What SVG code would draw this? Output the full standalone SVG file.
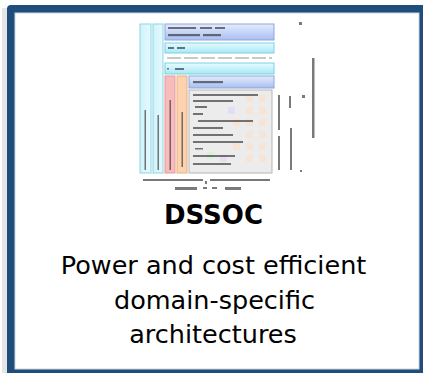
<svg xmlns="http://www.w3.org/2000/svg" width="423" height="373" viewBox="0 0 423 373">
<defs>
<style>
.t{font-family:"DejaVu Sans","Verdana",sans-serif;fill:#000;text-anchor:middle}
.mk{fill:#222;opacity:0.6}
.cy{stroke:#8fd3e4;stroke-width:1}
</style>
<linearGradient id="gb" x1="0" y1="0" x2="0" y2="1"><stop offset="0" stop-color="#e4ebfc"/><stop offset="1" stop-color="#a9bff2"/></linearGradient>
<linearGradient id="gc" x1="0" y1="0" x2="0" y2="1"><stop offset="0" stop-color="#e8fbfe"/><stop offset="1" stop-color="#a6e8f6"/></linearGradient>
<linearGradient id="gv" x1="0" y1="0" x2="1" y2="0"><stop offset="0" stop-color="#cff3fb"/><stop offset="1" stop-color="#e6fafd"/></linearGradient>
</defs>
<rect x="2" y="8" width="6" height="365" fill="#e6e6e6"/>
<g id="frame">
<rect x="7" y="5" width="420" height="372" rx="4" fill="#1f4e7e"/>
<rect x="15" y="13" width="404" height="356" fill="#ffffff" stroke="#cfd6de" stroke-width="1"/>
</g>
<g id="thumbnail">
<rect x="140" y="24" width="11" height="149" fill="url(#gv)" class="cy"/>
<rect x="153" y="24" width="10" height="149" fill="url(#gv)" class="cy"/>
<rect x="165" y="24" width="109" height="16" fill="url(#gb)" stroke="#8ea7dc"/>
<rect x="165" y="43" width="109" height="10" fill="url(#gc)" stroke="#7fd0e2"/>
<line x1="167" y1="58" x2="272" y2="58" stroke="#b8b8b8" stroke-width="1.5" stroke-dasharray="14 3"/>
<rect x="165" y="63" width="109" height="11" fill="url(#gc)" stroke="#7fd0e2"/>
<rect x="165" y="76" width="10" height="97" fill="#f9bcbc" stroke="#e39a9a"/>
<rect x="177" y="76" width="10" height="97" fill="#fcd3ae" stroke="#e8b07f"/>
<rect x="189" y="76" width="85" height="12" fill="url(#gb)" stroke="#8ea7dc"/>
<rect x="189" y="90" width="83" height="83" fill="#ececec" stroke="#b5b5b5"/>
<g fill="#fbe3cf" opacity="0.8">
<rect x="246" y="95" width="7" height="7"/><rect x="259" y="95" width="7" height="7"/>
<rect x="246" y="107" width="7" height="7"/><rect x="259" y="107" width="7" height="7"/>
<rect x="233" y="119" width="7" height="7"/><rect x="246" y="119" width="7" height="7"/><rect x="259" y="119" width="7" height="7"/>
<rect x="246" y="131" width="7" height="7"/><rect x="259" y="131" width="7" height="7"/>
<rect x="233" y="143" width="7" height="7"/><rect x="246" y="143" width="7" height="7"/><rect x="259" y="143" width="7" height="7"/>
<rect x="246" y="155" width="7" height="7"/><rect x="259" y="155" width="7" height="7"/>
<rect x="220" y="155" width="7" height="7" fill="#e9d9f5"/><rect x="207" y="152" width="7" height="7" fill="#d6f3d6"/>
<rect x="228" y="107" width="7" height="7" fill="#dcdcfa"/>
</g>
<g class="mk">
<rect x="168" y="27" width="28" height="2"/><rect x="200" y="27" width="12" height="2"/><rect x="215" y="27" width="10" height="2"/>
<rect x="168" y="34" width="32" height="2.2"/><rect x="203" y="34" width="18" height="2.2"/>
<rect x="168" y="47" width="6" height="2"/><rect x="177" y="47" width="8" height="2"/>
<rect x="167" y="68" width="2" height="1.5"/><rect x="175" y="68" width="9" height="2"/>
<rect x="193" y="81" width="30" height="2.2"/>
<rect x="193" y="94" width="65" height="2"/><rect x="193" y="100" width="40" height="2"/>
<rect x="195" y="106" width="12" height="2"/><rect x="193" y="113" width="10" height="2"/>
<rect x="198" y="120" width="55" height="2"/><rect x="193" y="127" width="30" height="2"/>
<rect x="193" y="134" width="40" height="2"/><rect x="193" y="141" width="50" height="2"/>
<rect x="195" y="148" width="8" height="1.5"/><rect x="193" y="155" width="42" height="2"/>
<rect x="193" y="163" width="38" height="2"/>
<rect x="144.5" y="110" width="1.5" height="60"/><rect x="157.5" y="115" width="1.5" height="55"/>
<rect x="169.5" y="100" width="1.5" height="70"/><rect x="181.5" y="112" width="1.5" height="55"/>
<rect x="312" y="58" width="2.5" height="80"/><rect x="290" y="128" width="2" height="42"/>
<rect x="289" y="96" width="2" height="12"/><rect x="302" y="95" width="3" height="3"/>
<rect x="299" y="22" width="3" height="3"/><rect x="300" y="170" width="2" height="2"/>
<rect x="175" y="187" width="22" height="3"/><rect x="203" y="187" width="4" height="2"/><rect x="212" y="187" width="5" height="2"/><rect x="225" y="187" width="16" height="3"/>
</g>
<g fill="none" stroke="#222" stroke-width="1.5" opacity="0.8">
<path d="M279,95 L279,130 M279,136 L279,170"/>
<path d="M143,180 L203,180 M210,180 L270,180"/>
<path d="M206,181 L206,184"/>
</g>
</g>
<g id="title">
<text class="t" x="213.5" y="224" font-size="26" font-weight="bold">DSSOC</text>
</g>
<g id="description">
<text class="t" x="213.5" y="274" font-size="25.5">Power and cost efficient</text>
<text class="t" x="214.5" y="309" font-size="25.5">domain-specific</text>
<text class="t" x="213" y="343" font-size="25.5">architectures</text>
</g>
</svg>
